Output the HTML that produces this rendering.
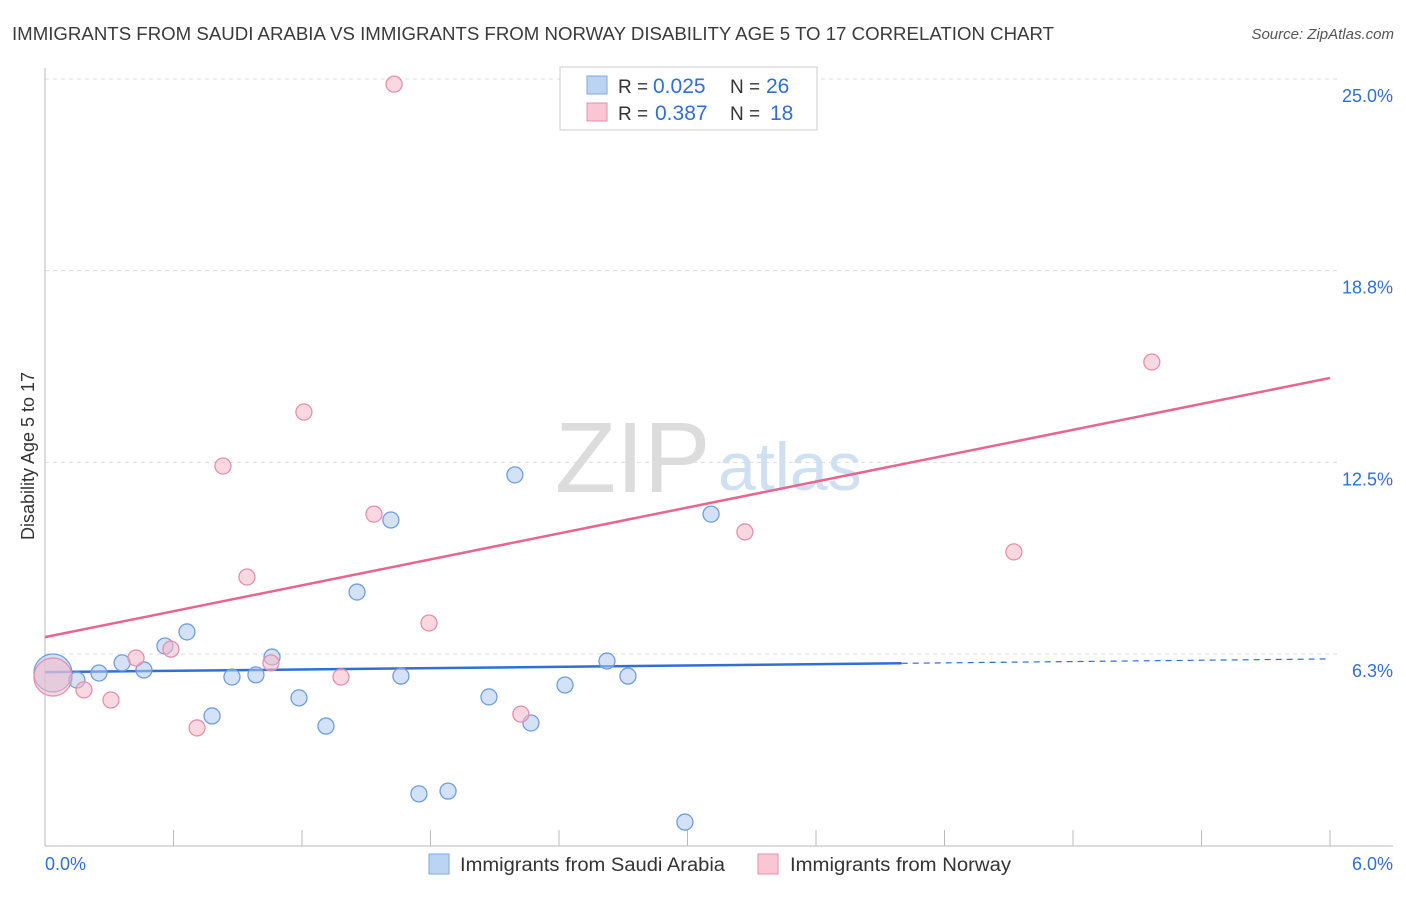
<!DOCTYPE html>
<html><head><meta charset="utf-8"><style>
body{margin:0;background:#fff;font-family:"Liberation Sans",sans-serif;}
svg text{font-family:"Liberation Sans",sans-serif;}
</style></head><body>
<svg id="chart" width="1406" height="892">
<text x="12" y="40" font-size="18" fill="#3a3a3a" textLength="1042" lengthAdjust="spacingAndGlyphs">IMMIGRANTS FROM SAUDI ARABIA VS IMMIGRANTS FROM NORWAY DISABILITY AGE 5 TO 17 CORRELATION CHART</text>
<text x="1394" y="39" font-size="15" fill="#555" text-anchor="end" font-style="italic">Source: ZipAtlas.com</text>
<text x="555" y="492" font-size="100" fill="#dcdcdc" font-family="Liberation Serif">ZIP</text>
<text x="718" y="490" font-size="68" fill="#cfe0f3">atlas</text>
<text transform="translate(34,456) rotate(-90)" font-size="18" fill="#333" text-anchor="middle">Disability Age 5 to 17</text>
<g id="grid"></g><g id="axes"></g><g id="lines"></g><g id="pts"></g>
<g>
<rect x="560" y="67" width="257" height="63" fill="#fff" stroke="#ccc"/>
<rect x="587" y="76" width="20" height="18" fill="#bcd4f4" stroke="#7fa8de"/>
<rect x="587" y="103" width="20" height="18" fill="#f8c6d4" stroke="#e88fa8"/>
<text x="618" y="93" font-size="19" fill="#333">R = <tspan x="653" fill="#2f6fd6" font-size="21">0.025</tspan><tspan x="730">N = </tspan><tspan x="766" fill="#2f6fd6" font-size="21">26</tspan></text>
<text x="618" y="120" font-size="19" fill="#333">R = <tspan x="655" fill="#2f6fd6" font-size="21">0.387</tspan><tspan x="730">N = </tspan><tspan x="770" fill="#2f6fd6" font-size="21">18</tspan></text>
</g>
<g>
<rect x="429" y="854" width="20" height="20" fill="#bcd4f4" stroke="#7fa8de"/>
<text x="460" y="871" font-size="19" fill="#333" textLength="265" lengthAdjust="spacingAndGlyphs">Immigrants from Saudi Arabia</text>
<rect x="758" y="854" width="20" height="20" fill="#f8c6d4" stroke="#e88fa8"/>
<text x="790" y="871" font-size="19" fill="#333" textLength="221" lengthAdjust="spacingAndGlyphs">Immigrants from Norway</text>
</g>
</svg>
<script>
const yTicks=[6.25,12.5,18.75,25];
const yTickLabels=["6.3%","12.5%","18.8%","25.0%"];
const xTickLabels=["0.0%","6.0%"];
const blueX=[0.037,0.149,0.252,0.36,0.462,0.56,0.663,0.78,0.873,0.985,1.06,1.186,1.312,1.457,1.615,1.662,1.746,1.882,2.073,2.194,2.269,2.428,2.624,2.722,2.988,3.11];
const blueY=[5.63,5.40,5.63,5.96,5.73,6.51,6.97,4.23,5.50,5.57,6.15,4.82,3.90,8.27,10.62,5.53,1.69,1.78,4.85,12.09,4.0,5.24,6.02,5.53,0.77,10.81];
const pinkX=[0.037,0.182,0.308,0.425,0.588,0.71,0.831,0.943,1.055,1.209,1.382,1.536,1.63,1.793,2.222,3.268,4.524,5.168];
const pinkY=[5.50,5.08,4.75,6.12,6.41,3.84,12.38,8.76,5.96,14.14,5.50,10.81,24.83,7.26,4.29,10.23,9.58,15.77];
const blueLine=[5.66,6.09];
const pinkLine=[6.80,15.25];
const NS="http://www.w3.org/2000/svg";
const X=v=>45+v/6*1285;
const Y=v=>654-(v-6.25)*30.67;
function mk(tag,at,parent){const e=document.createElementNS(NS,tag);for(const k in at)e.setAttribute(k,at[k]);document.getElementById(parent).appendChild(e);return e;}
yTicks.forEach((t,i)=>{
 const l=mk('line',{x1:45,x2:1340,y1:Y(t),y2:Y(t),stroke:'#ddd','stroke-dasharray':'4,4'},'grid');
 
 
 const tx=mk('text',{x:1393,y:Y(t)+23,'font-size':18,fill:'#2f6fd6','text-anchor':'end'},'grid');
 tx.textContent=yTickLabels[i];
 
 
});
const ax=mk('line',{x1:45,x2:45,y1:68,y2:846,stroke:'#bbb'},'axes');


const bx=mk('line',{x1:45,x2:1393,y1:846,y2:846,stroke:'#bbb'},'axes');


for(let i=0;i<=10;i++){const t=mk('line',{x1:X(i*0.6),x2:X(i*0.6),y1:830,y2:846,stroke:'#bbb'},'axes');
 
 }
[[0,"start",45],[6,"end",1393]].forEach((d,i)=>{const t=mk('text',{x:d[2],y:870,'font-size':18,fill:'#2f6fd6','text-anchor':d[1]},'axes');t.textContent=xTickLabels[i];
 
 });
let bl=mk('line',{x1:X(0),y1:Y(blueLine[0]),x2:X(4),y2:Y(blueLine[0]+(blueLine[1]-blueLine[0])*4/6),stroke:'#2f6fd6','stroke-width':2.5},'lines');


let bd=mk('line',{x1:X(4),y1:Y(blueLine[0]+(blueLine[1]-blueLine[0])*4/6),x2:X(6),y2:Y(blueLine[1]),stroke:'#2f6fd6','stroke-width':1.2,'stroke-dasharray':'6,5'},'lines');


let pl=mk('line',{x1:X(0),y1:Y(pinkLine[0]),x2:X(6),y2:Y(pinkLine[1]),stroke:'#e8658e','stroke-width':2.5},'lines');


function pts(xs,ys,fill,stroke,name){xs.forEach((x,i)=>{const c=mk('circle',{cx:X(x),cy:Y(ys[i]),r:i===0?19:8,fill:fill,'fill-opacity':0.55,stroke:stroke,'stroke-width':1.3},'pts');
 
 });}
pts(blueX,blueY,'#aecbf0','#6f9ee0','point-saudi-arabia');
pts(pinkX,pinkY,'#f6b8c9','#e88fa8','point-norway');
</script>
</body></html>
